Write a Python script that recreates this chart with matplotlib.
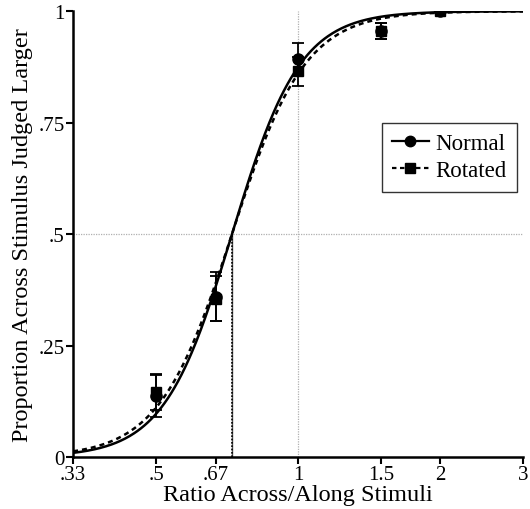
import numpy as np
import matplotlib
matplotlib.use("Agg")
import matplotlib.pyplot as plt

plt.rcParams['font.family'] = ['Liberation Serif', 'DejaVu Serif']

# data
ratios = [0.5, 0.67, 1.0, 1.5, 2.0]
normal_mean = [0.137, 0.36, 0.892, 0.955, 1.0]
normal_err = [0.047, 0.055, 0.036, 0.018, 0.0]
rotated_mean = [0.146, 0.355, 0.865, 0.955, 1.0]
rotated_err = [0.040, 0.050, 0.033, 0.018, 0.0]

# logistic fits (on log ratio): point of subjective equality, spread
pse = 0.724
normal_slope = 0.166
rotated_slope = 0.178

xticks = [1/3, 0.5, 0.67, 1, 1.5, 2, 3]
xticklabels = ['.33', '.5', '.67', '1', '1.5', '2', '3']
yticks = [0, 0.25, 0.5, 0.75, 1]
yticklabels = ['0', '.25', '.5', '.75', '1']


def logistic(x, mu, s):
    return 1 / (1 + np.exp(-(np.log(x) - np.log(mu)) / s))


fig = plt.figure(figsize=(5.3, 5.1), dpi=100)
ax = fig.add_axes([0.138, 0.102, 0.849, 0.874])

# reference lines
ax.axhline(0.5, color='#b0b0b0', lw=0.9, ls=(0, (1, 1)), zorder=1)
ax.axvline(1.0, color='#b0b0b0', lw=0.9, ls=(0, (1, 1)), zorder=1)
ax.plot([pse, pse], [0, 0.5], color='#555555', lw=1.0, zorder=1)
ax.plot([pse, pse], [0, 0.5], color='black', lw=1.2, ls=(0, (1, 1)), zorder=1)

xs = np.geomspace(1/3, 3, 400)
ax.plot(xs, logistic(xs, pse, normal_slope), color='black', lw=1.8, zorder=2)
ax.plot(xs, logistic(xs, pse, rotated_slope), color='black', lw=1.8,
        ls=(0, (2, 1.6)), zorder=2)

ax.errorbar(ratios, rotated_mean, yerr=rotated_err, fmt='none', ecolor='black',
            elinewidth=1.3, capsize=4.5, capthick=1.3, zorder=3)
ax.errorbar(ratios, normal_mean, yerr=normal_err, fmt='none', ecolor='black',
            elinewidth=1.3, capsize=4.5, capthick=1.3, zorder=3)
ax.plot(ratios, normal_mean, 'o', color='black', ms=8, zorder=4)
ax.plot(ratios, rotated_mean, 's', color='black', ms=7, zorder=4)

# legend proxies
h1, = ax.plot([], [], color='black', lw=1.6, marker='o', ms=7.5)
h2, = ax.plot([], [], color='black', lw=1.6, ls=(0, (2, 1.6)), marker='s', ms=6.5)
leg = ax.legend([h1, h2], ['Normal', 'Rotated'], loc='upper right',
                bbox_to_anchor=(0.987, 0.749), borderaxespad=0, fontsize=16.5,
                frameon=True, fancybox=False, edgecolor='black',
                handlelength=1.6, handletextpad=0.3, borderpad=0.45,
                labelspacing=0.25)
leg.get_frame().set_linewidth(1.0)

ax.set_xscale('log')
ax.set_xlim(1/3, 3)
ax.set_ylim(0, 1)
ax.set_xticks(xticks)
ax.set_xticklabels(xticklabels)
ax.xaxis.set_minor_locator(matplotlib.ticker.NullLocator())
ax.set_yticks(yticks)
ax.set_yticklabels(yticklabels)

for s in ['top', 'right']:
    ax.spines[s].set_visible(False)
for s in ['left', 'bottom']:
    ax.spines[s].set_linewidth(1.8)
ax.tick_params(axis='both', direction='out', length=5, width=1.5,
               labelsize=15, pad=1)

ax.set_xlabel('Ratio Across/Along Stimuli', fontsize=17.5, labelpad=0)
ax.set_ylabel('Proportion Across Stimulus Judged Larger', fontsize=17.5, labelpad=4)

fig.savefig('out.png', dpi=100)
